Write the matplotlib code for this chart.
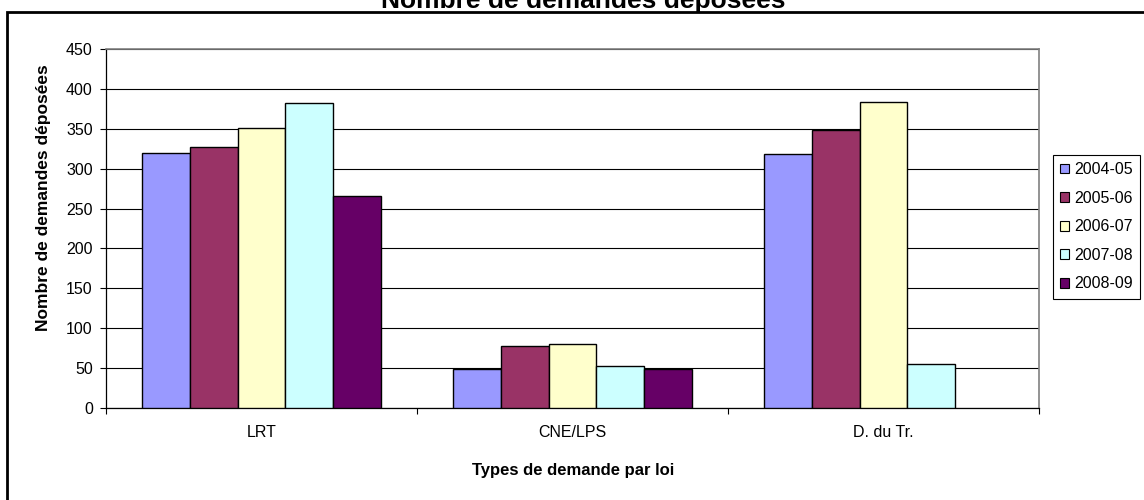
import matplotlib.pyplot as plt
import numpy as np
from matplotlib.patches import Patch, Rectangle

# Données du graphique
categories = ["LRT", "CNE/LPS", "D. du Tr."]
annees = ["2004-05", "2005-06", "2006-07", "2007-08", "2008-09"]
v_2004_05 = [320, 49, 319]
v_2005_06 = [327, 78, 348]
v_2006_07 = [351, 80, 383]
v_2007_08 = [382, 53, 55]
v_2008_09 = [266, 49, np.nan]
series = [v_2004_05, v_2005_06, v_2006_07, v_2007_08, v_2008_09]
couleurs = ["#9999FF", "#993366", "#FFFFCC", "#CCFFFF", "#660066"]
graduations = list(range(0, 451, 50))

plt.rcParams["font.family"] = ["Liberation Sans", "DejaVu Sans"]

W, H = 1144, 500
fig = plt.figure(figsize=(W / 100, H / 100), dpi=100)
ax = fig.add_axes([106 / W, 1 - 408 / H, (1039 - 106) / W, (408 - 49) / H])

# Barres groupées (écart de 150 % comme dans Excel)
largeur = 1 / (len(annees) + 1.5)
centres = np.arange(len(categories)) + 0.5
for j, (valeurs, couleur) in enumerate(zip(series, couleurs)):
    decalage = (j - (len(annees) - 1) / 2) * largeur
    ax.bar(centres + decalage, valeurs, width=largeur, color=couleur,
           edgecolor="black", linewidth=1, zorder=3)

ax.set_xlim(0, len(categories))
ax.set_ylim(0, 450)

# Quadrillage horizontal
ax.set_yticks(graduations)
ax.yaxis.grid(True, color="black", linewidth=0.8, zorder=0)
ax.set_axisbelow(True)

ax.set_xticks(centres)
ax.set_xticklabels(categories)
ax.set_xticks(np.arange(len(categories) + 1), minor=True)
ax.tick_params(axis="x", which="major", length=0, pad=12, labelsize=11.5)
ax.tick_params(axis="x", which="minor", length=4.5, width=0.8, direction="out")
ax.tick_params(axis="y", length=4.5, width=0.8, pad=5, labelsize=11.5)

for cote in ["left", "bottom"]:
    ax.spines[cote].set_color("black")
    ax.spines[cote].set_linewidth(0.9)
for cote in ["top", "right"]:
    ax.spines[cote].set_color("#808080")
    ax.spines[cote].set_linewidth(1.2)

# Titres des axes
fig.text(44 / W, 1 - 198 / H, "Nombre de demandes déposées", rotation=90,
         ha="center", va="center", fontsize=12.5, fontweight="bold")
fig.text(573 / W, 1 - 470 / H, "Types de demande par loi",
         ha="center", va="center", fontsize=12, fontweight="bold")

# Titre principal, coupé en haut comme sur l'original
fig.text(583 / W, 1 - 8 / H, "Nombre de demandes déposées",
         ha="center", va="baseline", fontsize=19, fontweight="bold")

# Légende
poignees = [Patch(facecolor=c, edgecolor="black", linewidth=0.8) for c in couleurs]
leg = fig.legend(poignees, annees, loc="upper left",
                 bbox_to_anchor=(1053 / W, 1 - 155 / H), fontsize=11.5,
                 handlelength=0.55, handleheight=0.55, handletextpad=0.35,
                 labelspacing=0.85, borderpad=0.45, borderaxespad=0,
                 fancybox=False, framealpha=1)
leg.get_frame().set_edgecolor("black")
leg.get_frame().set_linewidth(0.8)

# Cadre extérieur du graphique
fig.patches.append(Rectangle((7 / W, -0.2), 1.2, 1.2 - 12 / H,
                             transform=fig.transFigure, fill=False,
                             edgecolor="black", linewidth=2))

fig.savefig("out.png", dpi=100)
